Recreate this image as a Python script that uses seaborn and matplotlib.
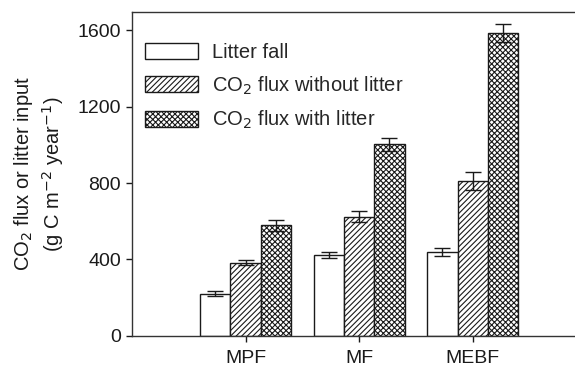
import matplotlib
matplotlib.use("Agg")
import matplotlib.pyplot as plt
import seaborn as sns
import pandas as pd
from matplotlib.patches import Patch

sites = ["MPF", "MF", "MEBF"]
series = ["Litter fall", "CO$_2$ flux without litter", "CO$_2$ flux with litter"]
litter_fall = [220, 425, 440]
flux_without = [382, 624, 812]
flux_with = [579, 1002, 1585]
err_litter = [13, 16, 20]
err_without = [13, 29, 46]
err_with = [28, 35, 48]
yticks = [0, 400, 800, 1200, 1600]

values = [litter_fall, flux_without, flux_with]
errors = [err_litter, err_without, err_with]
df = pd.DataFrame({
    "site": [s for _ in series for s in sites],
    "series": [name for name in series for _ in sites],
    "value": [v for vals in values for v in vals],
})

sns.set_theme(style="ticks")
plt.rcParams["font.family"] = ["Liberation Sans", "DejaVu Sans"]
plt.rcParams["hatch.linewidth"] = 0.8
plt.rcParams["hatch.color"] = "#1a1a1a"

fig = plt.figure(figsize=(5.75, 3.65), dpi=100)
ax = fig.add_axes([0.2296, 0.0795, 0.7704, 0.8875])

sns.barplot(data=df, x="site", y="value", hue="series", order=sites,
            hue_order=series, palette=["white"] * 3, edgecolor="#1a1a1a",
            linewidth=1.0, errorbar=None, width=0.8, legend=False, ax=ax)

hatches = ["", "//////", "xxxxxx"]
for cont, h, errs in zip(ax.containers, hatches, errors):
    xs, ys = [], []
    for bar, e in zip(cont, errs):
        bar.set_hatch(h)
        xs.append(bar.get_x() + bar.get_width() / 2)
        ys.append(bar.get_height())
    ax.errorbar(xs, ys, yerr=errs, fmt="none", ecolor="#1a1a1a",
                elinewidth=1.0, capsize=6, capthick=1.0, zorder=5)

ax.set_xlim(-1.0, 2.9)
ax.set_ylim(0, 1694)
ax.set_yticks(yticks)
ax.set_xlabel("")
ax.set_ylabel("CO$_2$ flux or litter input\n(g C m$^{-2}$ year$^{-1}$)",
              fontsize=14.5, color="#1a1a1a", linespacing=1.25, labelpad=8)
ax.tick_params(axis="both", labelsize=14, colors="#1a1a1a", length=4,
               width=1.0, direction="out")
ax.tick_params(axis="x", pad=6)
ax.tick_params(axis="y", pad=4)
for side in ["left", "top", "bottom"]:
    ax.spines[side].set_color("#333333")
    ax.spines[side].set_linewidth(1.0)
ax.spines["right"].set_visible(False)
ax.spines["top"].set_visible(True)

handles = [Patch(facecolor="white", edgecolor="#1a1a1a", hatch=h, linewidth=1.0)
           for h in hatches]
ax.legend(handles, series, loc="upper left", bbox_to_anchor=(0.03, 0.905),
          frameon=False, fontsize=14.5, handlelength=2.6, handleheight=0.85,
          labelspacing=0.62, handletextpad=0.7, borderaxespad=0, borderpad=0)

fig.savefig("out.png", dpi=100)
